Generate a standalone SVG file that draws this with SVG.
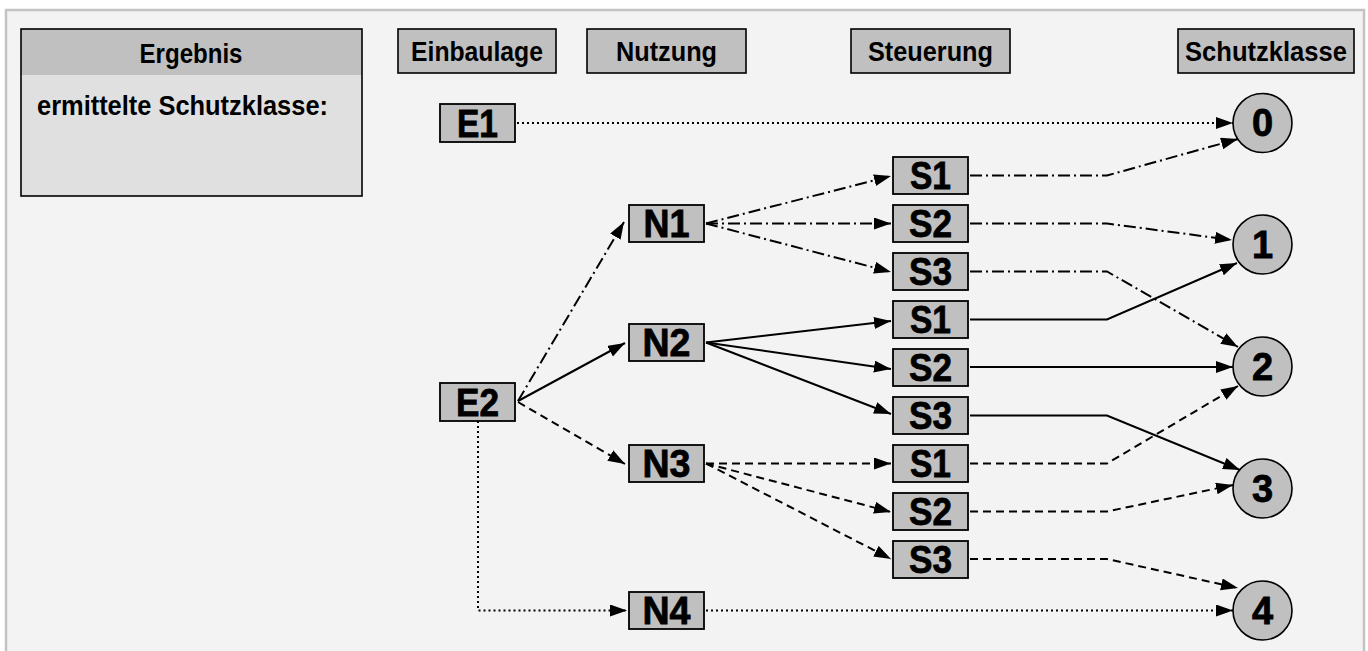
<svg xmlns="http://www.w3.org/2000/svg" width="1368" height="651" viewBox="0 0 1368 651">
<style>
.frame{fill:#f3f3f3;stroke:#c3c3c3;stroke-width:2.5}
.hdr{fill:#c0c0c0;stroke:#000;stroke-width:1.6}
.node{fill:#c0c0c0;stroke:#000;stroke-width:1.8}
.circ{fill:#c0c0c0;stroke:#000;stroke-width:1.6}
.ht{font-family:"Liberation Sans",Arial,sans-serif;font-weight:bold;font-size:28px;fill:#000;text-anchor:middle}
.nt{font-family:"Liberation Sans",Arial,sans-serif;font-weight:bold;font-size:38px;fill:#000;stroke:#000;stroke-width:0.8;text-anchor:middle}
.c{fill:none;stroke:#000;stroke-width:2;marker-end:url(#ah)}
.dot{stroke-dasharray:2 3}
.dash{stroke-dasharray:8 5}
.dd{stroke-dasharray:12 4 2 4}
</style>
<defs>
<marker id="ah" markerUnits="userSpaceOnUse" markerWidth="18" markerHeight="13" refX="17" refY="6" orient="auto">
<path d="M0,0 L17,6 L0,12 z" fill="#000"/>
</marker>
</defs>
<rect class="frame" x="6" y="10" width="1358" height="660"/>
<g id="ergebnis">
<rect x="21" y="29" width="341" height="167" fill="#e0e0e0"/>
<rect x="21" y="29" width="341" height="46" fill="#c0c0c0"/>
<rect x="21" y="29" width="341" height="167" fill="none" stroke="#000" stroke-width="1.6"/>
<text class="ht" x="191" y="63" textLength="103" lengthAdjust="spacingAndGlyphs">Ergebnis</text>
<text x="37" y="115" font-family="Liberation Sans, Arial, sans-serif" font-weight="bold" font-size="28" textLength="291" lengthAdjust="spacingAndGlyphs">ermittelte Schutzklasse:</text>
</g>
<g id="h-einbaulage"><rect class="hdr" x="398" y="29" width="158" height="44"/><text class="ht" x="477" y="61" textLength="132" lengthAdjust="spacingAndGlyphs">Einbaulage</text></g>
<g id="h-nutzung"><rect class="hdr" x="587" y="29" width="159" height="44"/><text class="ht" x="666.5" y="61" textLength="101" lengthAdjust="spacingAndGlyphs">Nutzung</text></g>
<g id="h-steuerung"><rect class="hdr" x="851" y="29" width="159" height="44"/><text class="ht" x="930.5" y="61" textLength="125" lengthAdjust="spacingAndGlyphs">Steuerung</text></g>
<g id="h-schutzklasse"><rect class="hdr" x="1178" y="29" width="176" height="44"/><text class="ht" x="1266" y="61" textLength="162" lengthAdjust="spacingAndGlyphs">Schutzklasse</text></g>
<g id="connectors">
<path class="c dot" d="M517,123 H1233"/>
<path class="c dd" d="M518,401 L624,222"/>
<path class="c" d="M518,401 L625,343"/>
<path class="c dash" d="M518,402 L625,464"/>
<path class="c dot" d="M478,421 V610.5 H627"/>
<path class="c dd" d="M706,223.5 L891,176"/>
<path class="c dd" d="M706,223.5 H891"/>
<path class="c dd" d="M706,223.5 L891,272"/>
<path class="c" d="M706,342.5 L891,321"/>
<path class="c" d="M706,342.5 L891,369"/>
<path class="c" d="M706,342.5 L891,414"/>
<path class="c dash" d="M706,463.5 H891"/>
<path class="c dash" d="M706,463.5 L891,512"/>
<path class="c dash" d="M706,463.5 L891,559"/>
<path class="c dot" d="M706,610.5 H1233"/>
<path class="c dd" d="M970,175.5 H1107 L1238,139"/>
<path class="c dd" d="M970,223.5 H1107 L1232,240"/>
<path class="c dd" d="M970,271.5 H1107 L1238,347"/>
<path class="c" d="M970,319.5 H1107 L1237,263"/>
<path class="c" d="M970,367 H1233"/>
<path class="c" d="M970,415.5 H1107 L1240,470"/>
<path class="c dash" d="M970,463.5 H1107 L1238,386"/>
<path class="c dash" d="M970,511.5 H1107 L1233,485"/>
<path class="c dash" d="M970,559 H1107 L1238,588"/>
</g>
<g id="E1"><rect class="node" x="440" y="104" width="75" height="38"/><text class="nt" x="477.5" y="137" textLength="41" lengthAdjust="spacingAndGlyphs">E1</text></g>
<g id="E2"><rect class="node" x="440" y="383" width="75" height="38"/><text class="nt" x="477.5" y="416" textLength="43" lengthAdjust="spacingAndGlyphs">E2</text></g>
<g id="N1"><rect class="node" x="629" y="205" width="75" height="37"/><text class="nt" x="666.5" y="237" textLength="46" lengthAdjust="spacingAndGlyphs">N1</text></g>
<g id="N2"><rect class="node" x="629" y="324" width="75" height="37"/><text class="nt" x="666.5" y="356" textLength="48" lengthAdjust="spacingAndGlyphs">N2</text></g>
<g id="N3"><rect class="node" x="629" y="445" width="75" height="37"/><text class="nt" x="666.5" y="477" textLength="48" lengthAdjust="spacingAndGlyphs">N3</text></g>
<g id="N4"><rect class="node" x="629" y="592" width="75" height="37"/><text class="nt" x="666.5" y="624" textLength="48" lengthAdjust="spacingAndGlyphs">N4</text></g>
<g id="S1a"><rect class="node" x="893" y="157" width="75" height="37"/><text class="nt" x="930.5" y="189" textLength="41" lengthAdjust="spacingAndGlyphs">S1</text></g>
<g id="S2a"><rect class="node" x="893" y="205" width="75" height="37"/><text class="nt" x="930.5" y="237" textLength="43" lengthAdjust="spacingAndGlyphs">S2</text></g>
<g id="S3a"><rect class="node" x="893" y="253" width="75" height="37"/><text class="nt" x="930.5" y="285" textLength="43" lengthAdjust="spacingAndGlyphs">S3</text></g>
<g id="S1b"><rect class="node" x="893" y="301" width="75" height="37"/><text class="nt" x="930.5" y="333" textLength="41" lengthAdjust="spacingAndGlyphs">S1</text></g>
<g id="S2b"><rect class="node" x="893" y="349" width="75" height="37"/><text class="nt" x="930.5" y="381" textLength="43" lengthAdjust="spacingAndGlyphs">S2</text></g>
<g id="S3b"><rect class="node" x="893" y="397" width="75" height="37"/><text class="nt" x="930.5" y="429" textLength="43" lengthAdjust="spacingAndGlyphs">S3</text></g>
<g id="S1c"><rect class="node" x="893" y="445" width="75" height="37"/><text class="nt" x="930.5" y="477" textLength="41" lengthAdjust="spacingAndGlyphs">S1</text></g>
<g id="S2c"><rect class="node" x="893" y="493" width="75" height="37"/><text class="nt" x="930.5" y="525" textLength="43" lengthAdjust="spacingAndGlyphs">S2</text></g>
<g id="S3c"><rect class="node" x="893" y="541" width="75" height="37"/><text class="nt" x="930.5" y="573" textLength="43" lengthAdjust="spacingAndGlyphs">S3</text></g>
<g id="K0"><circle class="circ" cx="1262.5" cy="123" r="29.5"/><text class="nt" x="1262.5" y="136">0</text></g>
<g id="K1"><circle class="circ" cx="1262.5" cy="244.5" r="29.5"/><text class="nt" x="1262.5" y="257.5">1</text></g>
<g id="K2"><circle class="circ" cx="1262.5" cy="366.5" r="29.5"/><text class="nt" x="1262.5" y="379.5">2</text></g>
<g id="K3"><circle class="circ" cx="1262.5" cy="488.5" r="29.5"/><text class="nt" x="1262.5" y="501.5">3</text></g>
<g id="K4"><circle class="circ" cx="1262.5" cy="610.5" r="29.5"/><text class="nt" x="1262.5" y="623.5">4</text></g>
</svg>
